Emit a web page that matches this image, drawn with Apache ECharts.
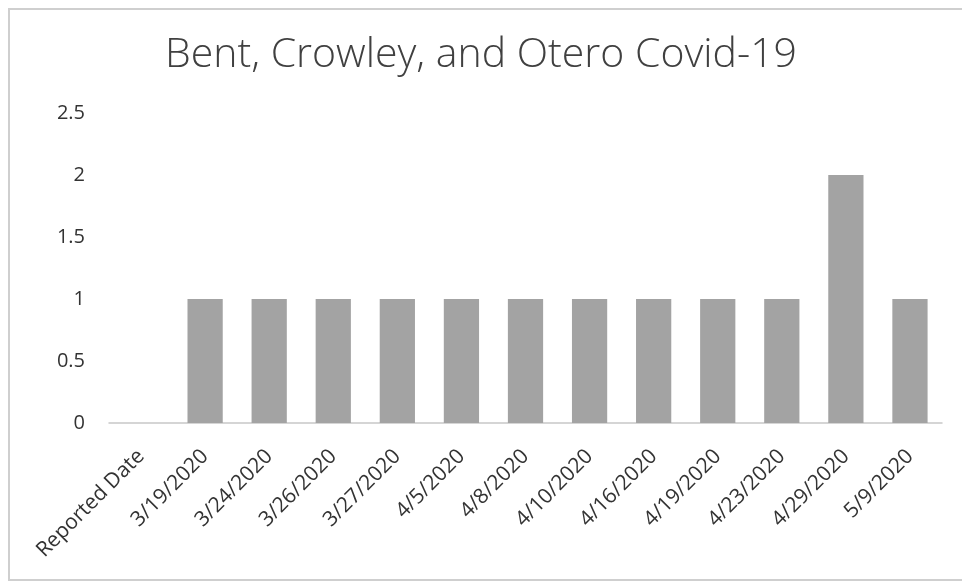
<!DOCTYPE html>
<html>
<head>
<meta charset="utf-8">
<script src="https://cdn.jsdelivr.net/npm/echarts@6/dist/echarts.min.js"></script>
<style>html,body{margin:0;padding:0;background:#fff}#c{width:962px;height:582px}</style>
</head>
<body>
<div id="c"></div>
<script>
const titleText = "Bent, Crowley, and Otero Covid-19";
const categories = ["Reported Date","3/19/2020","3/24/2020","3/26/2020","3/27/2020","4/5/2020","4/8/2020","4/10/2020","4/16/2020","4/19/2020","4/23/2020","4/29/2020","5/9/2020"];
const cases = [null,1,1,1,1,1,1,1,1,1,1,2,1];
const yTicks = {min:0, max:2.5, interval:0.5};

const chart = echarts.init(document.getElementById('c'), null, {renderer:'canvas'});
chart.setOption({
  backgroundColor:'#fff',
  animation:false,
  title:{text:titleText, left:'center', top:30,
    textStyle:{fontFamily:'Open Sans', fontWeight:300, fontSize:41, color:'#404040'}},
  grid:{left:109, right:20, top:113, bottom:159, containLabel:false},
  graphic:[{type:'rect', shape:{x:9,y:9,width:960,height:571},
    style:{fill:'none', stroke:'#cfcfcf', lineWidth:2}, silent:true}],
  xAxis:{type:'category', data:categories,
    axisLine:{lineStyle:{color:'#c8c8c8', width:1.5}},
    axisTick:{show:false},
    axisLabel:{rotate:45, interval:0, margin:30, color:'#333333', fontFamily:'Open Sans', fontSize:21}},
  yAxis:{type:'value', min:yTicks.min, max:yTicks.max, interval:yTicks.interval,
    splitLine:{show:false}, axisLine:{show:false}, axisTick:{show:false},
    axisLabel:{margin:24, color:'#333333', fontFamily:'Open Sans', fontSize:20}},
  series:[{type:'bar', data:cases, barWidth:'55%',
    itemStyle:{color:'#a3a3a3'}}]
});
</script>
</body>
</html>
